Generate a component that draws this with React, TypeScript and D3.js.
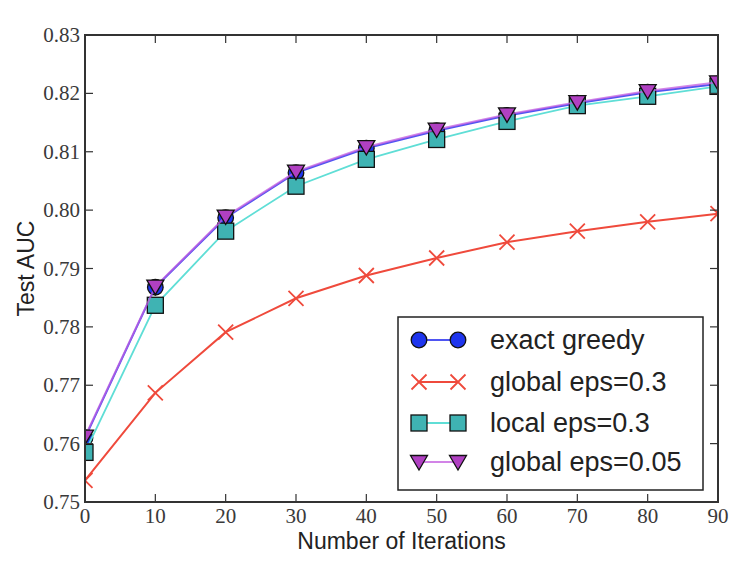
import React from 'react';
import * as d3 from 'd3';

const iterations = [0, 10, 20, 30, 40, 50, 60, 70, 80, 90];
const exactGreedy = [0.761, 0.7868, 0.7987, 0.8064, 0.8106, 0.8136, 0.8162, 0.8183, 0.8202, 0.8216];
const globalEps03 = [0.7537, 0.7687, 0.7791, 0.7849, 0.7888, 0.7918, 0.7945, 0.7964, 0.798, 0.7994];
const localEps03 = [0.7585, 0.7837, 0.7964, 0.8041, 0.8087, 0.8121, 0.8152, 0.8179, 0.8195, 0.8212];
const globalEps005 = [0.7612, 0.7869, 0.7989, 0.8066, 0.8108, 0.8138, 0.8164, 0.8185, 0.8204, 0.8219];
const xTicks = [0, 10, 20, 30, 40, 50, 60, 70, 80, 90];
const yTicks = [0.75, 0.76, 0.77, 0.78, 0.79, 0.8, 0.81, 0.82, 0.83];

const series = [
  { name: 'exact greedy', values: exactGreedy, line: '#4f55f2', fill: '#1e35ee', marker: 'circle', lw: 2, op: 1 },
  { name: 'global eps=0.3', values: globalEps03, line: '#ef4a3c', fill: '#ef4a3c', marker: 'x', lw: 2, op: 1 },
  { name: 'local eps=0.3', values: localEps03, line: '#5fded6', fill: '#3fb3b3', marker: 'square', lw: 1.8, op: 1 },
  { name: 'global eps=0.05', values: globalEps005, line: '#c35ce0', fill: '#b040c2', marker: 'tri', lw: 2, op: 0.75 },
];

const W = 742;
const H = 571;
const left = 85;
const right = 718;
const top = 35;
const bottom = 502;
const serif = 'Liberation Serif, DejaVu Serif, serif';
const sans = 'Liberation Sans, Arial, sans-serif';

function Marker({ kind, x, y, fill }: any) {
  if (kind === 'circle') {
    return <circle cx={x} cy={y} r={7.8} fill={fill} stroke="#111" strokeWidth={1.3} />;
  }
  if (kind === 'square') {
    return <rect x={x - 8} y={y - 8} width={16} height={16} fill={fill} stroke="#111" strokeWidth={1.3} />;
  }
  if (kind === 'tri') {
    const p = `${x - 8.5},${y - 6.5} ${x + 8.5},${y - 6.5} ${x},${y + 8}`;
    return <polygon points={p} fill={fill} stroke="#111" strokeWidth={1.3} />;
  }
  const s = 7.5;
  return (
    <path
      d={`M${x - s},${y - s}L${x + s},${y + s}M${x - s},${y + s}L${x + s},${y - s}`}
      stroke={fill}
      strokeWidth={1.8}
      fill="none"
    />
  );
}

export default function App() {
  const x = d3.scaleLinear().domain([0, 90]).range([left, right]);
  const y = d3.scaleLinear().domain([0.75, 0.83]).range([bottom, top]);
  const line = d3
    .line<number>()
    .x((d, i) => x(iterations[i]))
    .y((d) => y(d));

  const legendX = 398;
  const legendY = 317;
  const rowY = [340, 382, 423, 462];

  return (
    <div style={{ position: 'absolute', left: 0, top: 0 }}>
      <svg width={W} height={H} style={{ display: 'block', background: '#fff' }}>
        <defs>
          <clipPath id="plot">
            <rect x={left} y={top} width={right - left} height={bottom - top} />
          </clipPath>
        </defs>

        <g clipPath="url(#plot)">
          {series.map((s) => (
            <g key={s.name}>
              <path d={line(s.values) || ''} fill="none" stroke={s.line} strokeWidth={s.lw} opacity={s.op} />
              {s.values.map((v, i) => (
                <Marker key={i} kind={s.marker} x={x(iterations[i])} y={y(v)} fill={s.fill} />
              ))}
            </g>
          ))}
        </g>

        {/* ticks on all four sides, pointing inward */}
        <g stroke="#333" strokeWidth={1.2}>
          {xTicks.map((t) => (
            <g key={'x' + t}>
              <line x1={x(t)} x2={x(t)} y1={bottom} y2={bottom - 8} />
              <line x1={x(t)} x2={x(t)} y1={top} y2={top + 8} />
            </g>
          ))}
          {yTicks.map((t) => (
            <g key={'y' + t}>
              <line x1={left} x2={left + 8} y1={y(t)} y2={y(t)} />
              <line x1={right} x2={right - 8} y1={y(t)} y2={y(t)} />
            </g>
          ))}
        </g>
        <rect x={left} y={top} width={right - left} height={bottom - top} fill="none" stroke="#333" strokeWidth={2} />

        {xTicks.map((t) => (
          <text key={'xl' + t} x={x(t)} y={bottom + 21} textAnchor="middle" fontFamily={serif} fontSize={21} fill="#3a3a3a">
            {t}
          </text>
        ))}
        {yTicks.map((t) => (
          <text key={'yl' + t} x={left - 5} y={y(t) + 7} textAnchor="end" fontFamily={serif} fontSize={21} fill="#3a3a3a">
            {t.toFixed(2)}
          </text>
        ))}

        <text x={(left + right) / 2} y={549} textAnchor="middle" fontFamily={sans} fontSize={23} fill="#222">
          Number of Iterations
        </text>
        <text
          transform={`translate(34,${(top + bottom) / 2}) rotate(-90)`}
          textAnchor="middle"
          fontFamily={sans}
          fontSize={23}
          fill="#222"
        >
          Test AUC
        </text>

        {/* legend */}
        <rect x={legendX} y={legendY} width={305} height={173} fill="#fff" stroke="#222" strokeWidth={1.5} />
        {series.map((s, i) => (
          <g key={'lg' + s.name}>
            <line x1={419} x2={458} y1={rowY[i]} y2={rowY[i]} stroke={s.line} strokeWidth={s.lw} opacity={s.op} />
            <Marker kind={s.marker} x={419} y={rowY[i]} fill={s.fill} />
            <Marker kind={s.marker} x={458} y={rowY[i]} fill={s.fill} />
            <text x={490} y={rowY[i] + 9} fontFamily={sans} fontSize={27} fill="#222">
              {s.name}
            </text>
          </g>
        ))}
      </svg>
    </div>
  );
}
